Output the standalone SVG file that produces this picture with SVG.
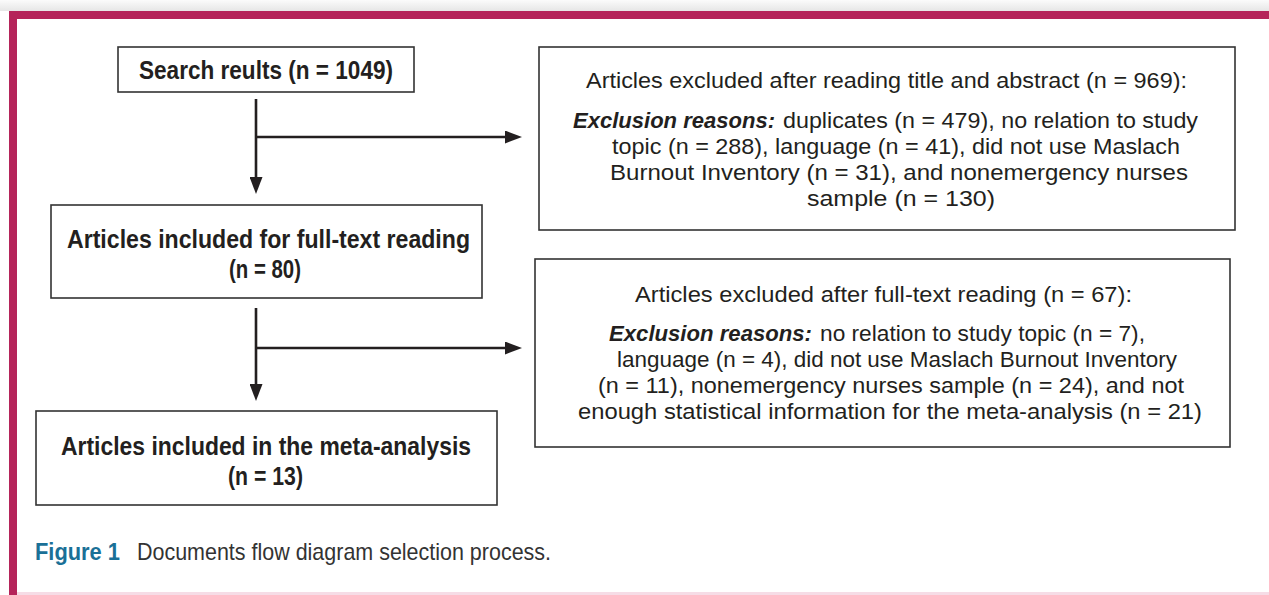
<svg xmlns="http://www.w3.org/2000/svg" width="1269" height="595" viewBox="0 0 1269 595">
  <defs>
    <linearGradient id="shadow" x1="0" y1="0" x2="0" y2="1">
      <stop offset="0" stop-color="#fbfbfb"/>
      <stop offset="1" stop-color="#e6e6e6"/>
    </linearGradient>
    <marker id="arrow" markerUnits="userSpaceOnUse" markerWidth="17" markerHeight="13" refX="7" refY="6.5" orient="auto">
      <path d="M0,0 L17,6.5 L0,13 Z" fill="#231f20"/>
    </marker>
    <style>
      .box { fill: #ffffff; stroke: #333333; stroke-width: 1.6; }
      .b { font-family: "Liberation Sans", Arial, sans-serif; font-weight: bold; font-size: 26px; fill: #231f20; }
      .r { font-family: "Liberation Sans", Arial, sans-serif; font-size: 22.5px; fill: #231f20; }
      .bi { font-family: "Liberation Sans", Arial, sans-serif; font-weight: bold; font-style: italic; font-size: 22.5px; fill: #231f20; }
      .conn { stroke: #231f20; stroke-width: 2.6; fill: none; }
    </style>
  </defs>

  <!-- frame -->
  <rect x="0" y="0" width="1269" height="595" fill="#ffffff"/>
  <rect x="0" y="0" width="1269" height="11" fill="url(#shadow)"/>
  <rect x="9" y="11" width="1260" height="8" fill="#b5245a"/>
  <rect x="9" y="11" width="8" height="584" fill="#b5245a"/>
  <rect x="17" y="592" width="1252" height="3" fill="#f6dce6"/>

  <g id="connectors">
    <path class="conn" d="M256,99 V184" marker-end="url(#arrow)"/>
    <path class="conn" d="M256,137 H512" marker-end="url(#arrow)"/>
    <path class="conn" d="M256,308 V391" marker-end="url(#arrow)"/>
    <path class="conn" d="M256,348 H512" marker-end="url(#arrow)"/>
  </g>

  <g id="search">
    <rect class="box" x="118" y="47" width="296" height="45"/>
    <text class="b" x="139" y="79" textLength="254" lengthAdjust="spacingAndGlyphs">Search reults (n = 1049)</text>
  </g>

  <g id="fulltext">
    <rect class="box" x="51" y="205" width="431" height="93"/>
    <text class="b" x="67" y="248" textLength="403" lengthAdjust="spacingAndGlyphs">Articles included for full-text reading</text>
    <text class="b" x="229" y="278" textLength="72" lengthAdjust="spacingAndGlyphs">(n = 80)</text>
  </g>

  <g id="meta">
    <rect class="box" x="36" y="411" width="461" height="94"/>
    <text class="b" x="61" y="455" textLength="410" lengthAdjust="spacingAndGlyphs">Articles included in the meta-analysis</text>
    <text class="b" x="228" y="485" textLength="75" lengthAdjust="spacingAndGlyphs">(n = 13)</text>
  </g>

  <g id="excl1">
    <rect class="box" x="539" y="47" width="696" height="183"/>
    <text class="r" x="586" y="88" textLength="601" lengthAdjust="spacingAndGlyphs">Articles excluded after reading title and abstract (n = 969):</text>
    <text class="bi" x="573" y="128" textLength="202" lengthAdjust="spacingAndGlyphs">Exclusion reasons:</text>
    <text class="r" x="783" y="128" textLength="415" lengthAdjust="spacingAndGlyphs">duplicates (n = 479), no relation to study</text>
    <text class="r" x="612" y="154" textLength="568" lengthAdjust="spacingAndGlyphs">topic (n = 288), language (n = 41), did not use Maslach</text>
    <text class="r" x="610" y="180" textLength="578" lengthAdjust="spacingAndGlyphs">Burnout Inventory (n = 31), and nonemergency nurses</text>
    <text class="r" x="807" y="206" textLength="188" lengthAdjust="spacingAndGlyphs">sample (n = 130)</text>
  </g>

  <g id="excl2">
    <rect class="box" x="535" y="259" width="695" height="188"/>
    <text class="r" x="635" y="302" textLength="497" lengthAdjust="spacingAndGlyphs">Articles excluded after full-text reading (n = 67):</text>
    <text class="bi" x="609" y="341" textLength="203" lengthAdjust="spacingAndGlyphs">Exclusion reasons:</text>
    <text class="r" x="820" y="341" textLength="325" lengthAdjust="spacingAndGlyphs">no relation to study topic (n = 7),</text>
    <text class="r" x="617" y="367" textLength="560" lengthAdjust="spacingAndGlyphs">language (n = 4), did not use Maslach Burnout Inventory</text>
    <text class="r" x="598" y="393" textLength="586" lengthAdjust="spacingAndGlyphs">(n = 11), nonemergency nurses sample (n = 24), and not</text>
    <text class="r" x="578" y="419" textLength="624" lengthAdjust="spacingAndGlyphs">enough statistical information for the meta-analysis (n = 21)</text>
  </g>

  <g id="caption">
    <text x="35" y="560" font-family="Liberation Sans, Arial, sans-serif" font-weight="bold" font-size="24" fill="#1a7097" textLength="85" lengthAdjust="spacingAndGlyphs">Figure 1</text>
    <text x="137" y="560" font-family="Liberation Sans, Arial, sans-serif" font-size="24" fill="#333333" textLength="414" lengthAdjust="spacingAndGlyphs">Documents flow diagram selection process.</text>
  </g>
</svg>
